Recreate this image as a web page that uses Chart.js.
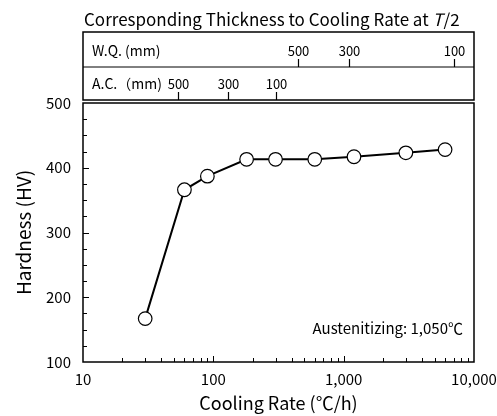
<!DOCTYPE html>
<html>
<head>
<meta charset="utf-8">
<script src="https://cdn.jsdelivr.net/npm/chart.js@4"></script>
<style>
  body { margin: 0; background: #fff; }
</style>
</head>
<body>
<canvas id="myChart" width="497" height="416"></canvas>
<script>
// Data
const coolingRate = [30, 60, 90, 180, 300, 600, 1200, 3000, 6000];
const hardness = [167, 366, 387, 413, 413, 413, 417, 423, 428];
const xTickValues = [10, 100, 1000, 10000];
const yTickValues = [100, 200, 300, 400, 500];
// thickness scales above the plot (cooling rate each thickness matches)
const wqThickness = ["500", "300", "100"];
const wqRate = [450, 1100, 7000];
const acThickness = ["500", "300", "100"];
const acRate = [54, 130, 300];

const FONT = "'Noto Sans CJK JP', 'Noto Sans', sans-serif";

const extras = {
  id: "extras",
  afterDraw(chart) {
    const ctx = chart.ctx;
    const x = chart.scales.x;
    const y = chart.scales.y;
    const a = chart.chartArea;
    ctx.save();
    ctx.strokeStyle = "#000";
    ctx.fillStyle = "#000";

    // inward ticks
    ctx.lineWidth = 1;
    ctx.beginPath();
    for (let d = 10; d < 10000; d *= 10) {
      for (let k = 1; k <= 9; k++) {
        const v = d * k;
        if (v === 10) continue;
        const px = Math.round(x.getPixelForValue(v)) + 0.5;
        const len = k === 1 ? 6 : 4;
        ctx.moveTo(px, a.bottom);
        ctx.lineTo(px, a.bottom - len);
      }
    }
    for (let v = 125; v < 500; v += 25) {
      const py = Math.round(y.getPixelForValue(v)) + 0.5;
      ctx.moveTo(a.left, py);
      ctx.lineTo(a.left + (v % 100 === 0 ? 6 : 4), py);
    }
    ctx.stroke();

    // plot frame
    ctx.lineWidth = 1.5;
    ctx.strokeRect(a.left, a.top, a.right - a.left, a.bottom - a.top);

    // header boxes
    const hBottom = a.top - 3;
    const hMid = hBottom - 33;
    const hTop = hMid - 35;
    ctx.strokeRect(a.left, hTop, a.right - a.left, hBottom - hTop);
    ctx.lineWidth = 1;
    ctx.beginPath();
    ctx.moveTo(a.left, hMid);
    ctx.lineTo(a.right, hMid);
    ctx.stroke();

    ctx.font = "14px " + FONT;
    ctx.textBaseline = "middle";
    ctx.textAlign = "left";
    ctx.fillText("W.Q. (mm)", a.left + 9, hTop + 19);
    ctx.fillText("A.C.（mm)", a.left + 9, hMid + 17);

    ctx.font = "13px " + FONT;
    ctx.textAlign = "center";
    ctx.lineWidth = 1.2;
    ctx.beginPath();
    wqRate.forEach((r, i) => {
      const px = Math.round(x.getPixelForValue(r)) + 0.5;
      ctx.moveTo(px, hMid);
      ctx.lineTo(px, hMid - 8);
      ctx.fillText(wqThickness[i], px, hTop + 19);
    });
    acRate.forEach((r, i) => {
      const px = Math.round(x.getPixelForValue(r)) + 0.5;
      ctx.moveTo(px, hBottom);
      ctx.lineTo(px, hBottom - 8);
      ctx.fillText(acThickness[i], px, hMid + 17);
    });
    ctx.stroke();

    // title with italic T
    ctx.textAlign = "left";
    ctx.font = "17px " + FONT;
    const t1 = "Corresponding Thickness to Cooling Rate at ";
    let tx = a.left + 1;
    const ty = 20;
    ctx.fillText(t1, tx, ty);
    tx += ctx.measureText(t1).width;
    ctx.font = "italic 17px " + FONT;
    ctx.fillText("T", tx, ty);
    tx += ctx.measureText("T").width + 1;
    ctx.font = "17px " + FONT;
    ctx.fillText("/2", tx, ty);

    // note
    ctx.font = "15px " + FONT;
    ctx.textAlign = "right";
    ctx.fillText("Austenitizing: 1,050℃", a.right - 11, a.bottom - 34);
    ctx.restore();
  },
};

const data = {
  labels: coolingRate,
  datasets: [
    {
      label: "Hardness",
      data: coolingRate.map((c, i) => ({ x: c, y: hardness[i] })),
      borderColor: "#000",
      borderWidth: 2,
      backgroundColor: "#fff",
      pointRadius: 6.8,
      pointBorderWidth: 1.2,
      pointBackgroundColor: "#fff",
      pointBorderColor: "#000",
      clip: false,
    },
  ],
};

const config = {
  type: "line",
  data: data,
  plugins: [extras],
  options: {
    responsive: false,
    animation: false,
    layout: { padding: { top: 103, right: 23, left: 0, bottom: 0 } },
    scales: {
      x: {
        type: "logarithmic",
        min: 10,
        max: 10000,
        afterBuildTicks: (s) => {
          s.ticks = xTickValues.map((v) => ({ value: v }));
        },
        afterFit: (s) => {
          s.height = 54;
        },
        ticks: {
          autoSkip: false,
          maxRotation: 0,
          color: "#000",
          padding: 0,
          font: { family: FONT, size: 15 },
          callback: (v) => Number(v).toLocaleString("en-US"),
        },
        grid: { display: false },
        border: { display: false },
        title: {
          display: true,
          text: "Cooling Rate (℃/h)",
          color: "#000",
          font: { family: FONT, size: 18 },
          padding: { top: 0, bottom: 2 },
        },
      },
      y: {
        min: 100,
        max: 500,
        afterBuildTicks: (s) => {
          s.ticks = yTickValues.map((v) => ({ value: v }));
        },
        afterFit: (s) => {
          s.width = 83;
        },
        ticks: {
          color: "#000",
          padding: 4,
          font: { family: FONT, size: 15 },
        },
        grid: { display: false },
        border: { display: false },
        title: {
          display: true,
          text: "Hardness (HV)",
          color: "#000",
          font: { family: FONT, size: 19 },
          padding: { top: 12, bottom: 0 },
        },
      },
    },
    plugins: {
      legend: { display: false },
      tooltip: { enabled: false },
    },
  },
};

myChart = new Chart(document.getElementById("myChart"), config);
</script>
</body>
</html>
